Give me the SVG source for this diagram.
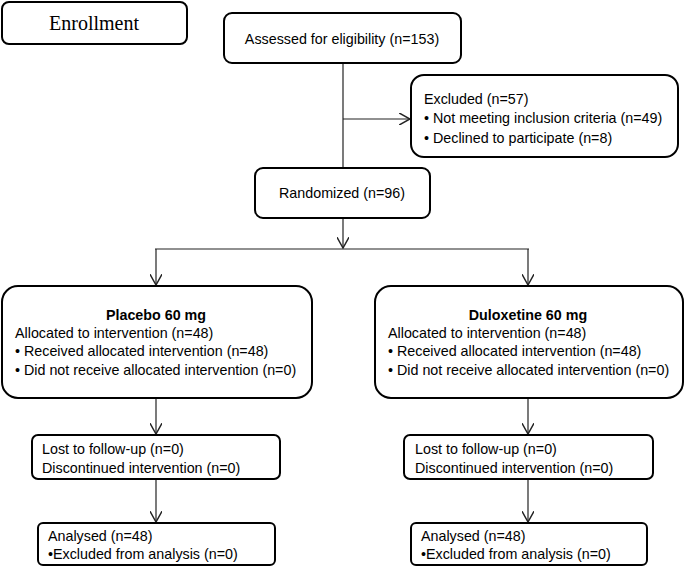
<svg xmlns="http://www.w3.org/2000/svg" width="685" height="567" viewBox="0 0 685 567">
<style>
.box{fill:#fff;stroke:#000;stroke-width:2}
.t{font-family:"Liberation Sans",Arial,sans-serif;font-size:14.3px;fill:#000}
.b{font-weight:bold}
.c{text-anchor:middle}
.ser{font-family:"Liberation Serif","Times New Roman",serif;font-size:20px}
.ln{stroke:#222;stroke-width:1.2;fill:none}
</style>
<defs>
<marker id="ah" markerUnits="userSpaceOnUse" markerWidth="12" markerHeight="12" refX="9" refY="5" orient="auto" viewBox="0 0 10 10">
<path d="M0,0 L9,5 L0,10" fill="none" stroke="#222" stroke-width="1.2"/>
</marker>
</defs>
<rect width="685" height="567" fill="#fff"/>
<g id="connectors">
<line class="ln" x1="343" y1="63" x2="343" y2="168"/>
<line class="ln" x1="343" y1="119" x2="410" y2="119" marker-end="url(#ah)"/>
<line class="ln" x1="343" y1="218" x2="343" y2="248" marker-end="url(#ah)"/>
<line class="ln" x1="155" y1="249" x2="529" y2="249"/>
<line class="ln" x1="156" y1="249" x2="156" y2="285" marker-end="url(#ah)"/>
<line class="ln" x1="528" y1="249" x2="528" y2="285" marker-end="url(#ah)"/>
<line class="ln" x1="156" y1="398" x2="156" y2="434" marker-end="url(#ah)"/>
<line class="ln" x1="528" y1="398" x2="528" y2="434" marker-end="url(#ah)"/>
<line class="ln" x1="156" y1="479" x2="156" y2="522" marker-end="url(#ah)"/>
<line class="ln" x1="528" y1="479" x2="528" y2="522" marker-end="url(#ah)"/>
</g>
<g id="enrollment">
<rect class="box" x="2" y="2" width="185" height="42" rx="7"/>
<text class="t ser c" x="94" y="30">Enrollment</text>
</g>
<g id="assessed">
<rect class="box" x="224" y="13" width="237" height="50" rx="8"/>
<text class="t c" x="342" y="44">Assessed for eligibility (n=153)</text>
</g>
<g id="excluded">
<rect class="box" x="411" y="75" width="267" height="82" rx="13"/>
<text class="t" x="424" y="104">Excluded (n=57)</text>
<text class="t" x="424" y="123">• Not meeting inclusion criteria (n=49)</text>
<text class="t" x="424" y="143">• Declined to participate (n=8)</text>
</g>
<g id="randomized">
<rect class="box" x="255" y="168" width="175" height="50" rx="8"/>
<text class="t c" x="342" y="198">Randomized (n=96)</text>
</g>
<g id="placebo">
<rect class="box" x="2" y="286" width="310" height="112" rx="16"/>
<text class="t b c" x="156" y="320">Placebo 60 mg</text>
<text class="t" x="15" y="338">Allocated to intervention (n=48)</text>
<text class="t" x="15" y="356">• Received allocated intervention (n=48)</text>
<text class="t" x="15" y="375">• Did not receive allocated intervention (n=0)</text>
</g>
<g id="duloxetine">
<rect class="box" x="375" y="286" width="308" height="112" rx="16"/>
<text class="t b c" x="528" y="320">Duloxetine 60 mg</text>
<text class="t" x="388" y="338">Allocated to intervention (n=48)</text>
<text class="t" x="388" y="356">• Received allocated intervention (n=48)</text>
<text class="t" x="388" y="375">• Did not receive allocated intervention (n=0)</text>
</g>
<g id="lost-placebo">
<rect class="box" x="32" y="435" width="248" height="44" rx="6"/>
<text class="t" x="42" y="454">Lost to follow-up (n=0)</text>
<text class="t" x="42" y="473">Discontinued intervention (n=0)</text>
</g>
<g id="lost-duloxetine">
<rect class="box" x="404" y="435" width="249" height="44" rx="6"/>
<text class="t" x="415" y="454">Lost to follow-up (n=0)</text>
<text class="t" x="415" y="473">Discontinued intervention (n=0)</text>
</g>
<g id="analysed-placebo">
<rect class="box" x="38" y="523" width="237" height="42" rx="5"/>
<text class="t" x="48" y="541">Analysed (n=48)</text>
<text class="t" x="48" y="559">•Excluded from analysis (n=0)</text>
</g>
<g id="analysed-duloxetine">
<rect class="box" x="411" y="523" width="236" height="42" rx="5"/>
<text class="t" x="421" y="541">Analysed (n=48)</text>
<text class="t" x="421" y="559">•Excluded from analysis (n=0)</text>
</g>
</svg>
